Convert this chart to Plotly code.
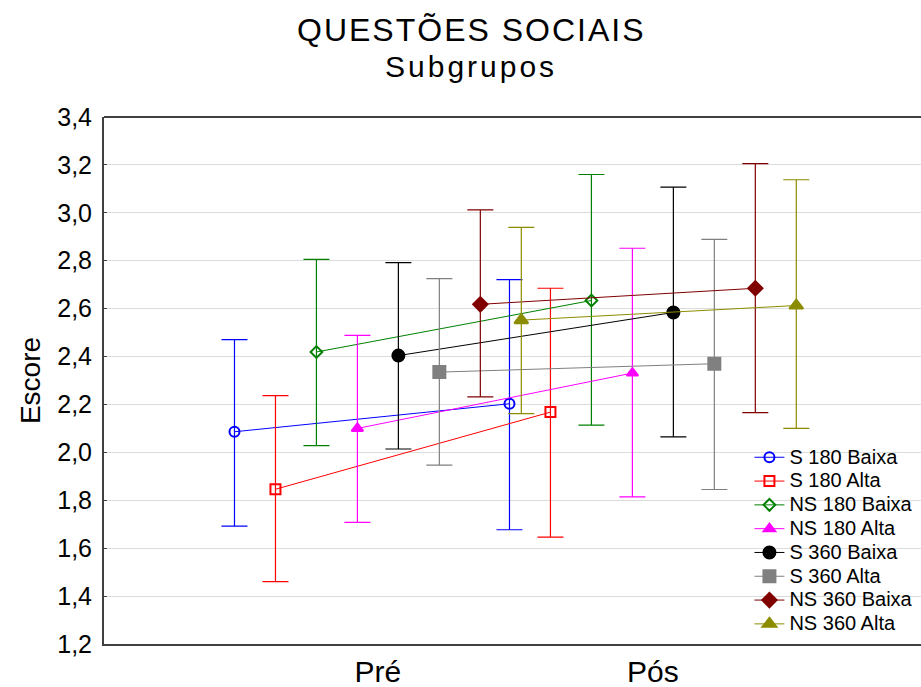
import plotly.graph_objects as go

# ---- data ----
periods = ["Pré", "Pós"]
series_names = ["S 180 Baixa", "S 180 Alta", "NS 180 Baixa", "NS 180 Alta",
                "S 360 Baixa", "S 360 Alta", "NS 360 Baixa", "NS 360 Alta"]
means = [
    [2.086, 2.203],
    [1.846, 2.168],
    [2.419, 2.634],
    [2.100, 2.331],
    [2.404, 2.584],
    [2.335, 2.370],
    [2.618, 2.685],
    [2.552, 2.613],
]
upper = [
    [2.471, 2.721],
    [2.237, 2.685],
    [2.806, 3.160],
    [2.488, 2.852],
    [2.792, 3.107],
    [2.725, 2.889],
    [3.012, 3.205],
    [2.939, 3.138],
]
lower = [
    [1.692, 1.677],
    [1.460, 1.646],
    [2.028, 2.114],
    [1.708, 1.814],
    [2.014, 2.065],
    [1.947, 1.845],
    [2.232, 2.166],
    [2.162, 2.100],
]
y_ticks = [1.2, 1.4, 1.6, 1.8, 2.0, 2.2, 2.4, 2.6, 2.8, 3.0, 3.2, 3.4]
title_text = "QUESTÕES SOCIAIS"
subtitle_text = "Subgrupos"

# ---- styles ----
colors = ["#0000ff", "#ff0000", "#008000", "#ff00ff",
          "#000000", "#808080", "#800000", "#8c8c00"]
symbols = ["circle-open", "square-open", "diamond-open", "triangle-up",
           "circle", "square", "diamond", "triangle-up"]
msizes = [10, 10, 9, 10, 12, 12, 11, 12]
dodge = 0.149

fig = go.Figure()
n = len(series_names)
for i, name in enumerate(series_names):
    off = (i - (n - 1) / 2) * dodge
    xs = [k + off for k in range(len(periods))]
    m = means[i]
    ep = [u - v for u, v in zip(upper[i], m)]
    em = [v - l for v, l in zip(m, lower[i])]
    fig.add_trace(go.Scatter(
        x=xs, y=m, mode="lines+markers",
        name=f"<span style='font-size:20px'>{name}</span>",
        line=dict(color=colors[i], width=1),
        marker=dict(symbol=symbols[i], size=msizes[i], color=colors[i],
                    line=dict(color=colors[i], width=2)),
        error_y=dict(type="data", symmetric=False, array=ep, arrayminus=em,
                     color=colors[i], thickness=1.2, width=13),
    ))

fig.update_layout(
    width=921, height=687,
    margin=dict(l=104, r=0, t=117, b=43),
    paper_bgcolor="white", plot_bgcolor="white",
    separators=",.",
    font=dict(family="Liberation Sans, Arial, sans-serif", color="black"),
    showlegend=True,
    legend=dict(x=0.79, xanchor="left", y=0.005, yanchor="bottom",
                bgcolor="rgba(0,0,0,0)", font=dict(size=16, color="black"),
                itemwidth=30, tracegroupgap=0),
    xaxis=dict(range=[-0.996, 1.975], tickmode="array", tickvals=[0, 1],
               ticktext=periods, showgrid=False, zeroline=False,
               showline=True, linecolor="#404040", linewidth=2,
               ticks="", tickfont=dict(size=30, color="black")),
    yaxis=dict(range=[1.2, 3.4], tickmode="array", tickvals=y_ticks,
               tickformat=".1f", showgrid=True, gridcolor="#dcdcdc", gridwidth=1,
               zeroline=False, showline=True, linecolor="#404040", linewidth=2,
               ticks="inside", ticklen=3, tickcolor="#404040",
               tickfont=dict(size=25, color="black"), ticklabelstandoff=5,
               title=dict(text="Escore", font=dict(size=28, color="black"), standoff=8)),
    shapes=[dict(type="line", xref="paper", yref="paper", x0=0, x1=1, y0=1, y1=1,
                 line=dict(color="#404040", width=2))],
    annotations=[
        dict(text=f"<span style='letter-spacing:2px'>{title_text}</span>",
             xref="paper", yref="paper",
             x=(471 - 104) / 817, y=(644 - 30) / 527, xanchor="center", yanchor="middle",
             showarrow=False, font=dict(size=32, color="black")),
        dict(text=f"<span style='letter-spacing:3px'>{subtitle_text}</span>",
             xref="paper", yref="paper",
             x=(471 - 104) / 817, y=(644 - 67) / 527, xanchor="center", yanchor="middle",
             showarrow=False, font=dict(size=30, color="black")),
    ],
)

fig.write_html("out.html")
